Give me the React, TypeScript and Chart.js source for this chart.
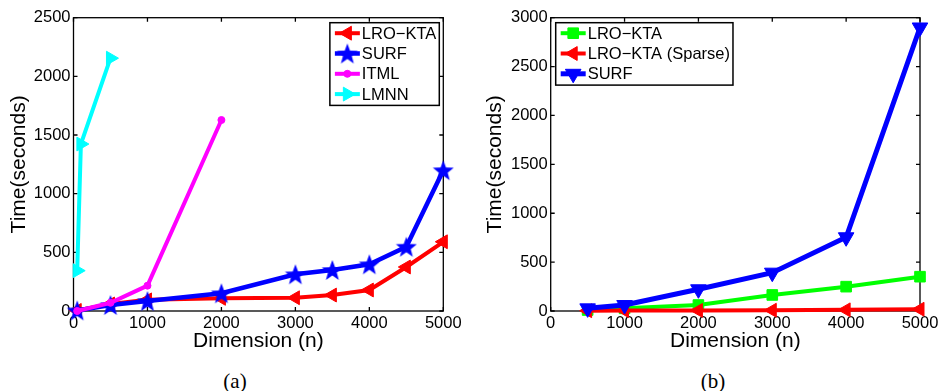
import React, { useEffect, useRef } from 'react';
import { Chart, registerables } from 'chart.js';
import { drawPoint } from 'chart.js/helpers';

Chart.register(...registerables);

const FONT = "'Liberation Sans', Arial, Helvetica, sans-serif";

// ---------- Panel (a) data ----------
const A_LRO_X = [50, 500, 1000, 2000, 3000, 3500, 4000, 4500, 5000];
const A_LRO_Y = [5, 60, 95, 108, 113, 136, 179, 375, 590];
const A_SURF_X = [50, 500, 1000, 2000, 3000, 3500, 4000, 4500, 5000];
const A_SURF_Y = [5, 51, 85, 151, 313, 350, 398, 548, 1200];
const A_ITML_X = [50, 500, 1000, 2000];
const A_ITML_Y = [0, 70, 216, 1628];
const A_LMNN_X = [50, 100, 500];
const A_LMNN_Y = [344, 1423, 2155];
const A_Y_TICKS = [0, 500, 1000, 1500, 2000, 2500];

// ---------- Panel (b) data ----------
const B_X = [500, 1000, 2000, 3000, 4000, 5000];
const B_LRO_Y = [10, 27, 61, 164, 249, 351];
const B_SPARSE_Y = [3, 5, 6, 8, 12, 18];
const B_SURF_Y = [27, 61, 222, 392, 754, 2900];
const B_Y_TICKS = [0, 500, 1000, 1500, 2000, 2500, 3000];

const X_TICKS = [0, 1000, 2000, 3000, 4000, 5000];
const X_TITLE = 'Dimension (n)';
const Y_TITLE = 'Time(seconds)';

const pts = (xs: number[], ys: number[]) => xs.map((x, i) => ({ x, y: ys[i] }));

function makeStar(color: string, size: number) {
  const c = document.createElement('canvas');
  c.width = size;
  c.height = size;
  const ctx = c.getContext('2d')!;
  const R = size / 2;
  const r = R * 0.42;
  ctx.beginPath();
  for (let i = 0; i < 10; i++) {
    const rad = i % 2 === 0 ? R : r;
    const a = -Math.PI / 2 + (i * Math.PI) / 5;
    ctx.lineTo(R + rad * Math.cos(a), R + 1 + rad * Math.sin(a));
  }
  ctx.closePath();
  ctx.fillStyle = color;
  ctx.fill();
  return c;
}

const framePlugin = {
  id: 'matlabFrame',
  beforeDatasetsDraw(chart: any) {
    const { ctx, chartArea, scales } = chart;
    const { left, right, top, bottom } = chartArea;
    ctx.save();
    ctx.strokeStyle = '#000';
    ctx.lineWidth = 1.3;
    ctx.strokeRect(left, top, right - left, bottom - top);
    const T = 4;
    ctx.beginPath();
    scales.x.ticks.forEach((t: any) => {
      const px = scales.x.getPixelForValue(t.value);
      ctx.moveTo(px, bottom);
      ctx.lineTo(px, bottom - T);
      ctx.moveTo(px, top);
      ctx.lineTo(px, top + T);
    });
    scales.y.ticks.forEach((t: any) => {
      const py = scales.y.getPixelForValue(t.value);
      ctx.moveTo(left, py);
      ctx.lineTo(left + T, py);
      ctx.moveTo(right, py);
      ctx.lineTo(right - T, py);
    });
    ctx.stroke();
    ctx.restore();
  },
  afterDatasetsDraw(chart: any, _args: any, opts: any) {
    const { ctx, chartArea } = chart;
    const ds = chart.data.datasets;
    ctx.save();
    ctx.font = `16.5px ${FONT}`;
    let maxW = 0;
    ds.forEach((d: any) => {
      maxW = Math.max(maxW, ctx.measureText(d.label).width);
    });
    const rowH = 20.3;
    const w = 32 + maxW + 3;
    const h = ds.length * rowH + 1.5;
    const top = chartArea.top + 5;
    const left = opts.side === 'right' ? chartArea.right - 4 - w : chartArea.left + 5;
    ctx.fillStyle = '#fff';
    ctx.fillRect(left, top, w, h);
    ctx.strokeStyle = '#000';
    ctx.lineWidth = 1.5;
    ctx.strokeRect(left, top, w, h);
    ds.forEach((d: any, i: number) => {
      const cy = top + 10.5 + i * rowH;
      ctx.strokeStyle = d.borderColor;
      ctx.lineWidth = d.borderWidth;
      ctx.beginPath();
      ctx.moveTo(left + 5, cy);
      ctx.lineTo(left + 30, cy);
      ctx.stroke();
      ctx.fillStyle = d.pointBackgroundColor;
      ctx.strokeStyle = d.pointBorderColor;
      ctx.lineWidth = 1;
      drawPoint(
        ctx,
        {
          pointStyle: d.pointStyle,
          rotation: d.pointRotation || 0,
          radius: d.pointRadius,
          borderWidth: 1,
        } as any,
        left + 17.5,
        cy
      );
      ctx.fillStyle = '#000';
      ctx.textBaseline = 'middle';
      ctx.textAlign = 'left';
      ctx.fillText(d.label, left + 32, cy + 1);
    });
    ctx.restore();
  },
};

function series(label: string, data: any, color: string, style: any, radius: number, rotation: number, order: number, width = 4) {
  return {
    label,
    data,
    showLine: true,
    borderColor: color,
    backgroundColor: color,
    pointBackgroundColor: color,
    pointBorderColor: color,
    borderWidth: width,
    pointStyle: style,
    pointRadius: radius,
    pointRotation: rotation,
    pointBorderWidth: 1,
    tension: 0,
    clip: false,
    order,
  };
}

function makeOptions(cfg: {
  yTicks: number[];
  yMax: number;
  yWidth: number;
  xHeight: number;
  padRight: number;
  padTop: number;
  yTitlePad: number;
  xTitlePad: number;
  side: string;
}) {
  return {
    responsive: false,
    animation: false,
    events: [],
    layout: { padding: { left: 0, top: cfg.padTop, right: cfg.padRight, bottom: 0 } },
    plugins: {
      legend: { display: false },
      tooltip: { enabled: false },
      matlabFrame: { side: cfg.side },
    },
    scales: {
      x: {
        type: 'linear',
        min: 0,
        max: 5000,
        grid: { display: false, drawTicks: false },
        border: { display: false },
        afterBuildTicks: (s: any) => {
          s.ticks = X_TICKS.map((v) => ({ value: v }));
        },
        afterFit: (s: any) => {
          s.height = cfg.xHeight;
          s.paddingLeft = 0;
          s.paddingRight = 0;
        },
        ticks: {
          color: '#000',
          font: { size: 16.5, family: FONT },
          padding: 3,
          maxRotation: 0,
          autoSkip: false,
          callback: (v: any) => String(v),
        },
        title: {
          display: true,
          text: X_TITLE,
          color: '#000',
          font: { size: 21, family: FONT },
          padding: { top: 0, bottom: cfg.xTitlePad },
        },
      },
      y: {
        type: 'linear',
        min: 0,
        max: cfg.yMax,
        grid: { display: false, drawTicks: false },
        border: { display: false },
        afterBuildTicks: (s: any) => {
          s.ticks = cfg.yTicks.map((v) => ({ value: v }));
        },
        afterFit: (s: any) => {
          s.width = cfg.yWidth;
          s.paddingTop = 0;
          s.paddingBottom = 0;
        },
        ticks: {
          color: '#000',
          font: { size: 16.5, family: FONT },
          padding: 3,
          autoSkip: false,
          callback: (v: any) => String(v),
        },
        title: {
          display: true,
          text: Y_TITLE,
          color: '#000',
          font: { size: 21, family: FONT },
          padding: { top: cfg.yTitlePad, bottom: 0 },
        },
      },
    },
  };
}

function PanelA() {
  const ref = useRef<HTMLCanvasElement>(null);
  useEffect(() => {
    const star = makeStar('#0000ff', 22);
    const chart = new Chart(ref.current!, {
      type: 'scatter',
      data: {
        datasets: [
          series('LRO−KTA', pts(A_LRO_X, A_LRO_Y), '#ff0000', 'triangle', 8, -90, 4),
          series('SURF', pts(A_SURF_X, A_SURF_Y), '#0000ff', star, 10, 0, 3, 4.5),
          series('ITML', pts(A_ITML_X, A_ITML_Y), '#ff00ff', 'circle', 3.5, 0, 2),
          series('LMNN', pts(A_LMNN_X, A_LMNN_Y), '#00ffff', 'triangle', 8, 90, 1),
        ] as any,
      },
      options: makeOptions({
        yTicks: A_Y_TICKS,
        yMax: 2500,
        yWidth: 73.5,
        xHeight: 49,
        padRight: 26.7,
        padTop: 17.7,
        yTitlePad: 7,
        xTitlePad: 6,
        side: 'right',
      }) as any,
      plugins: [framePlugin],
    });
    return () => chart.destroy();
  }, []);
  return <canvas ref={ref} width={470} height={360} style={{ position: 'absolute', left: 0, top: 0 }} />;
}

function PanelB() {
  const ref = useRef<HTMLCanvasElement>(null);
  useEffect(() => {
    const chart = new Chart(ref.current!, {
      type: 'scatter',
      data: {
        datasets: [
          series('LRO−KTA', pts(B_X, B_LRO_Y), '#00ff00', 'rect', 7.5, 0, 3),
          series('LRO−KTA (Sparse)', pts(B_X, B_SPARSE_Y), '#ff0000', 'triangle', 8, -90, 2),
          series('SURF', pts(B_X, B_SURF_Y), '#0000ff', 'triangle', 9, 180, 1, 5),
        ] as any,
      },
      options: makeOptions({
        yTicks: B_Y_TICKS,
        yMax: 3000,
        yWidth: 80.7,
        xHeight: 49,
        padRight: 18,
        padTop: 17.7,
        yTitlePad: 13,
        xTitlePad: 6,
        side: 'left',
      }) as any,
      plugins: [framePlugin],
    });
    return () => chart.destroy();
  }, []);
  return <canvas ref={ref} width={468} height={360} style={{ position: 'absolute', left: 470, top: 0 }} />;
}

const captionStyle: React.CSSProperties = {
  position: 'absolute',
  top: 370,
  width: 60,
  textAlign: 'center',
  fontFamily: "'Liberation Serif', 'Times New Roman', serif",
  fontSize: 21,
  lineHeight: '22px',
  color: '#000',
};

export default function App() {
  return (
    <div style={{ position: 'fixed', left: 0, top: 0, width: 938, height: 391, background: '#fff', overflow: 'hidden' }}>
      <PanelA />
      <PanelB />
      <div style={{ ...captionStyle, left: 235 - 30 }}>(a)</div>
      <div style={{ ...captionStyle, left: 713 - 30 }}>(b)</div>
    </div>
  );
}
